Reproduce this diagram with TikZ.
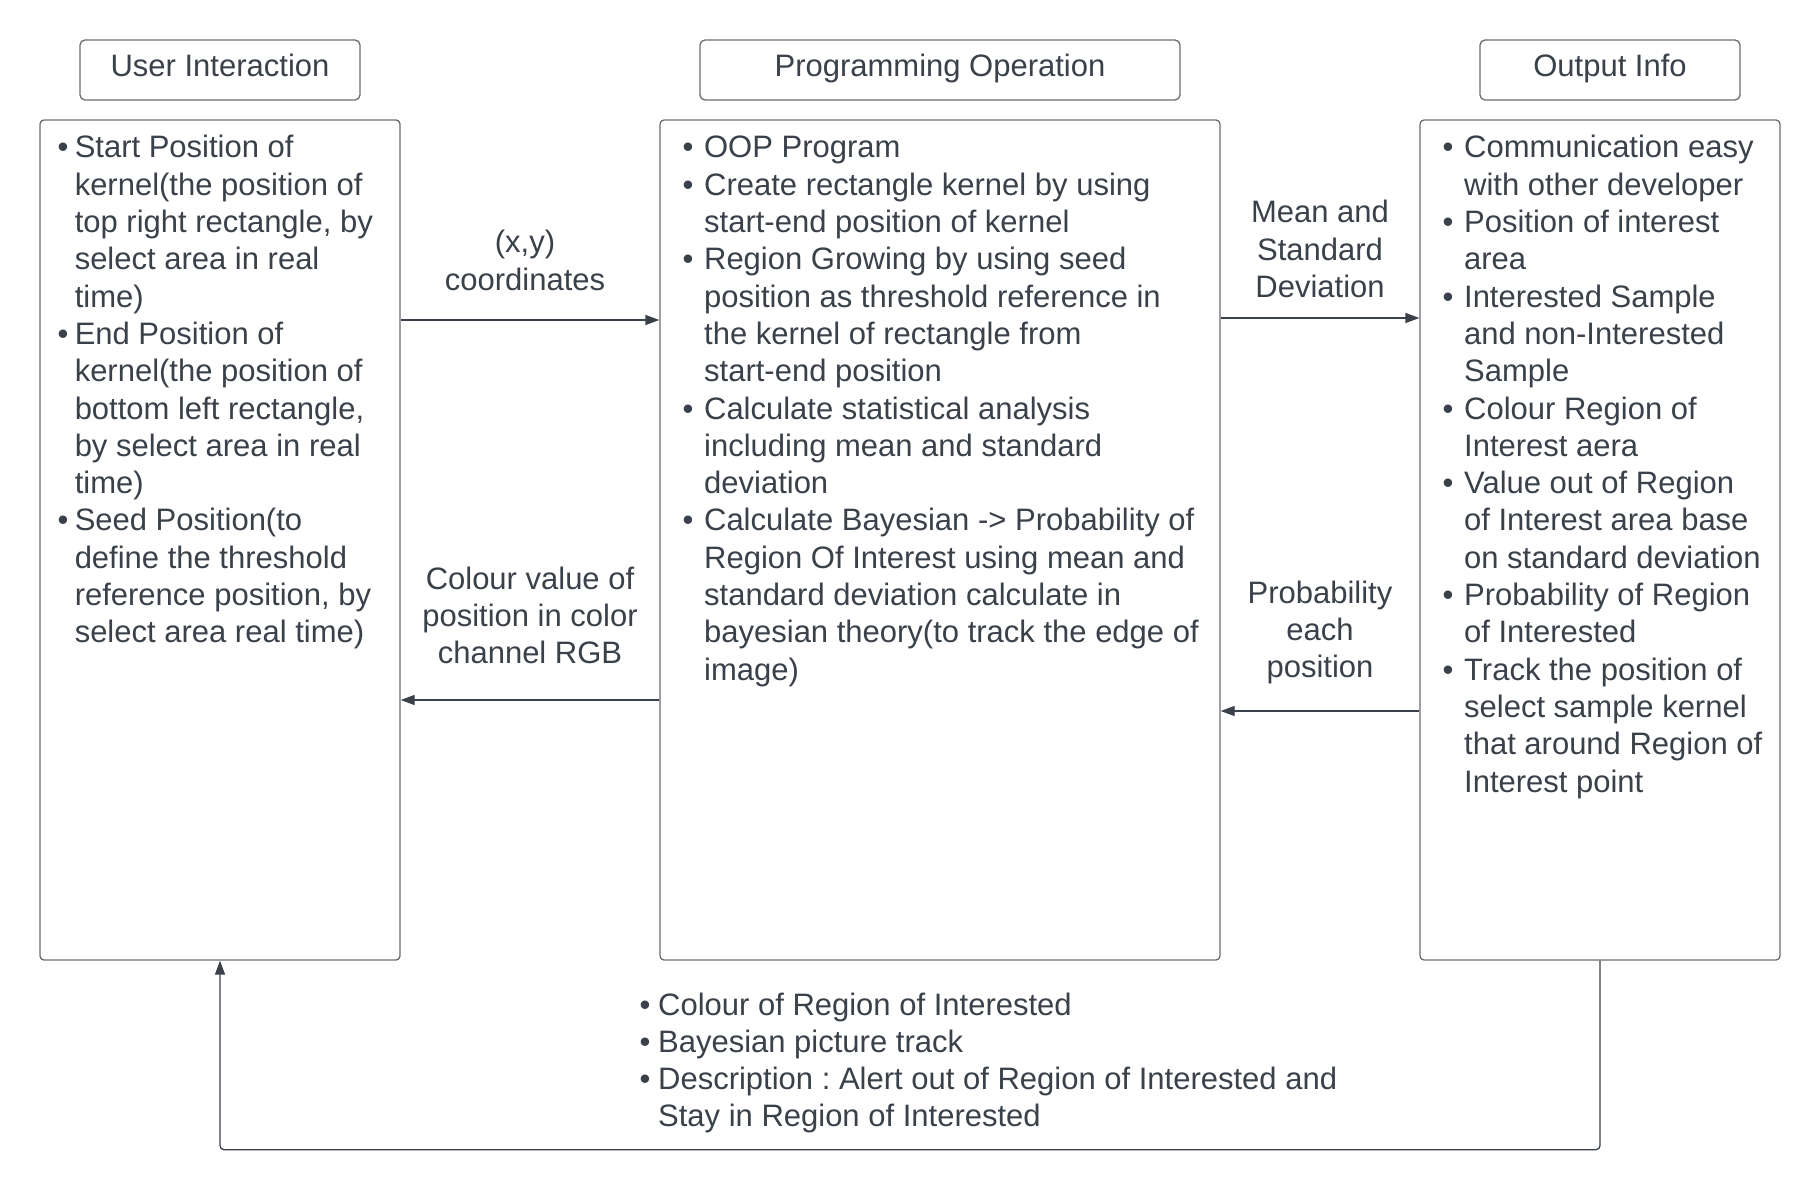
\documentclass[tikz,border=0pt]{standalone}
\usepackage{fontspec}
\setmainfont{Liberation Sans}
\usetikzlibrary{arrows.meta}
\definecolor{ink}{RGB}{58,65,74}
\definecolor{edgec}{RGB}{105,109,115}
\frenchspacing
\tikzset{
  every node/.style={font=\fontsize{31}{37.3}\selectfont\frenchspacing, text=ink},
  panel/.style={draw=edgec, line width=1.3pt, rounded corners=4pt, inner sep=0pt},
  head/.style={draw=edgec, line width=1.3pt, rounded corners=5pt, text height=22pt, text depth=8pt, inner sep=0pt, minimum height=60pt},
  flow/.style={draw=ink, line width=1.3pt, -{Triangle[length=14pt,width=10pt]}},
  txt/.style={anchor=base west, inner sep=0pt},
  lbl/.style={anchor=base, inner sep=0pt}
}
\begin{document}
\begin{tikzpicture}[x=1pt,y=-1pt]
\useasboundingbox[fill=white] (0,0) rectangle (1820,1190);

% headers
\node[head, minimum width=280pt] (h1) at (220,70) {User Interaction};
\node[head, minimum width=480pt] (h2) at (940,70) {Programming Operation};
\node[head, minimum width=260pt] (h3) at (1610,70) {Output Info};

% panels
\node[panel, minimum width=360pt, minimum height=840pt] (ui) at (220,540) {};
\node[panel, minimum width=560pt, minimum height=840pt] (po) at (940,540) {};
\node[panel, minimum width=360pt, minimum height=840pt] (oi) at (1600,540) {};

% panel texts
\node[txt] (uitext) at (57.5,158) {\begin{tabular}[t]{@{}l@{\hspace{6.2pt}}l@{}}
•& Start Position of\\
 & kernel(the position of\\
 & top right rectangle, by\\
 & select area in real\\
 & time)\\
•& End Position of\\
 & kernel(the position of\\
 & bottom left rectangle,\\
 & by select area in real\\
 & time)\\
•& Seed Position(to\\
 & define the threshold\\
 & reference position, by\\
 & select area real time)
\end{tabular}};

\node[txt] (potext) at (682.5,158) {\begin{tabular}[t]{@{}l@{\hspace{10.6pt}}l@{}}
•& OOP Program\\
•& Create rectangle kernel by using\\
 & start-end position of kernel\\
•& Region Growing by using seed\\
 & position as threshold reference in\\
 & the kernel of rectangle from\\
 & start-end position\\
•& Calculate statistical analysis\\
 & including mean and standard\\
 & deviation\\
•& Calculate Bayesian -> Probability of\\
 & Region Of Interest using mean and\\
 & standard deviation calculate in\\
 & bayesian theory(to track the edge of\\
 & image)
\end{tabular}};

\node[txt] (oitext) at (1442.5,158) {\begin{tabular}[t]{@{}l@{\hspace{10.6pt}}l@{}}
•& Communication easy\\
 & with other developer\\
•& Position of interest\\
 & area\\
•& Interested Sample\\
 & and non-Interested\\
 & Sample\\
•& Colour Region of\\
 & Interest aera\\
•& Value out of Region\\
 & of Interest area base\\
 & on standard deviation\\
•& Probability of Region\\
 & of Interested\\
•& Track the position of\\
 & select sample kernel\\
 & that around Region of\\
 & Interest point
\end{tabular}};

% connectors
\draw[flow] (ui.east |- 0,320) -- (po.west |- 0,320);
\draw[flow] (po.east |- 0,318) -- (oi.west |- 0,318);
\draw[flow] (po.west |- 0,700) -- (ui.east |- 0,700);
\draw[flow] (oi.west |- 0,711) -- (po.east |- 0,711);
\draw[flow, rounded corners=4pt] (oi.south) -- ++(0,189) -| (ui.south);

% labels
\node[lbl] (l1) at (525,253) {\begin{tabular}[t]{@{}c@{}}(x,y)\\coordinates\end{tabular}};
\node[lbl] (l2) at (1320,223) {\begin{tabular}[t]{@{}c@{}}Mean and\\Standard\\Deviation\end{tabular}};
\node[lbl] (l3) at (530,589) {\begin{tabular}[t]{@{}c@{}}Colour value of\\position in color\\channel RGB\end{tabular}};
\node[lbl] (l4) at (1320,603) {\begin{tabular}[t]{@{}c@{}}Probability\\each\\position\end{tabular}};

\node[txt] (fbtext) at (639.5,1015) {\begin{tabular}[t]{@{}l@{\hspace{7.6pt}}l@{}}
•& Colour of Region of Interested\\
•& Bayesian picture track\\
•& Description : Alert out of Region of Interested and\\
 & Stay in Region of Interested
\end{tabular}};
\end{tikzpicture}
\end{document}
